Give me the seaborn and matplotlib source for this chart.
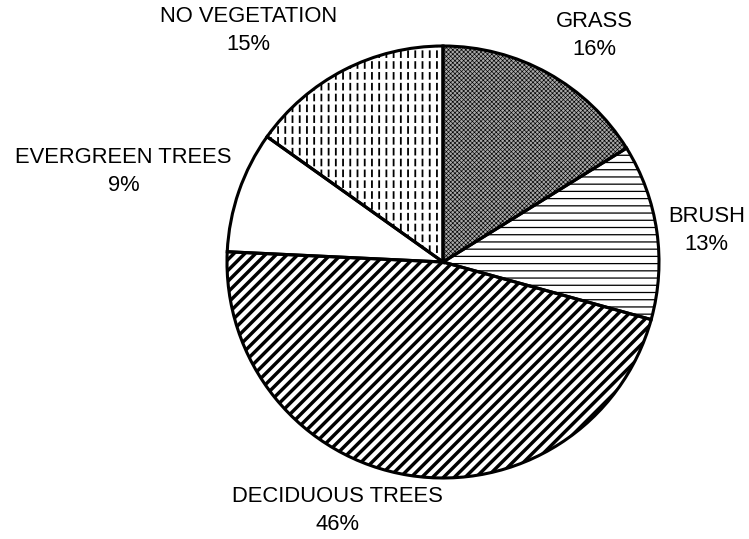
import matplotlib
matplotlib.use("Agg")
import matplotlib.pyplot as plt
from matplotlib.patches import Wedge
import seaborn as sns

# Land cover shares (percent), clockwise from 12 o'clock
categories = ["GRASS", "BRUSH", "DECIDUOUS TREES", "EVERGREEN TREES", "NO VEGETATION"]
shares = [16, 13, 46, 9, 15]

# Fill styles for each slice
face_colors = ["#a8a8a8", "white", "white", "white", "white"]
hatches = ["xxxxxxxxxx", "---", "////", "", "|||"]
hatch_widths = [0.35, 0.7, 1.9, 0.5, 1.0]

# Label anchor positions (in units of pie radius), layout only
label_pos = [(0.70, 1.05), (1.22, 0.145), (-0.49, -1.15), (-1.48, 0.42), (-0.90, 1.07)]

sns.set_style("white")
plt.rcParams["font.family"] = ["Liberation Sans", "DejaVu Sans"]
plt.rcParams["text.color"] = "black"

DPI = 130
fig = plt.figure(figsize=(749 / DPI, 539 / DPI), dpi=DPI)
ax = fig.add_axes([0, 0, 1, 1])

wedges, _ = ax.pie(shares, startangle=90, counterclock=False, radius=1,
                   colors=face_colors,
                   wedgeprops=dict(edgecolor="black", linewidth=0))
for w, h, lw in zip(wedges, hatches, hatch_widths):
    w.set_hatch(h)
    if hasattr(w, "set_hatch_linewidth"):
        w.set_hatch_linewidth(lw)
    else:
        w._hatch_linewidth = lw

# break the vertical lines of the last slice into dashes
nv = wedges[4]
gap = Wedge(nv.center, nv.r, nv.theta1, nv.theta2, facecolor="none",
            edgecolor="white", linewidth=0, hatch="--", zorder=3)
if hasattr(gap, "set_hatch_linewidth"):
    gap.set_hatch_linewidth(1.8)
else:
    gap._hatch_linewidth = 1.8
ax.add_patch(gap)

# slice outlines on top
for w in wedges:
    ax.add_patch(Wedge(w.center, w.r, w.theta1, w.theta2, fill=False,
                       edgecolor="black", linewidth=1.7, zorder=4))

for name, val, (x, y) in zip(categories, shares, label_pos):
    ax.text(x, y, f"{name}\n{val}%", ha="center", va="center",
            fontsize=12.2, linespacing=1.45)

# map data units to pixels: centre at (443, 262) px, radius 216 px
s = 216
ax.set_xlim(-443 / s, (749 - 443) / s)
ax.set_ylim(-(539 - 262) / s, 262 / s)
ax.set_aspect("equal")
ax.axis("off")

fig.savefig("out.png", dpi=DPI)
